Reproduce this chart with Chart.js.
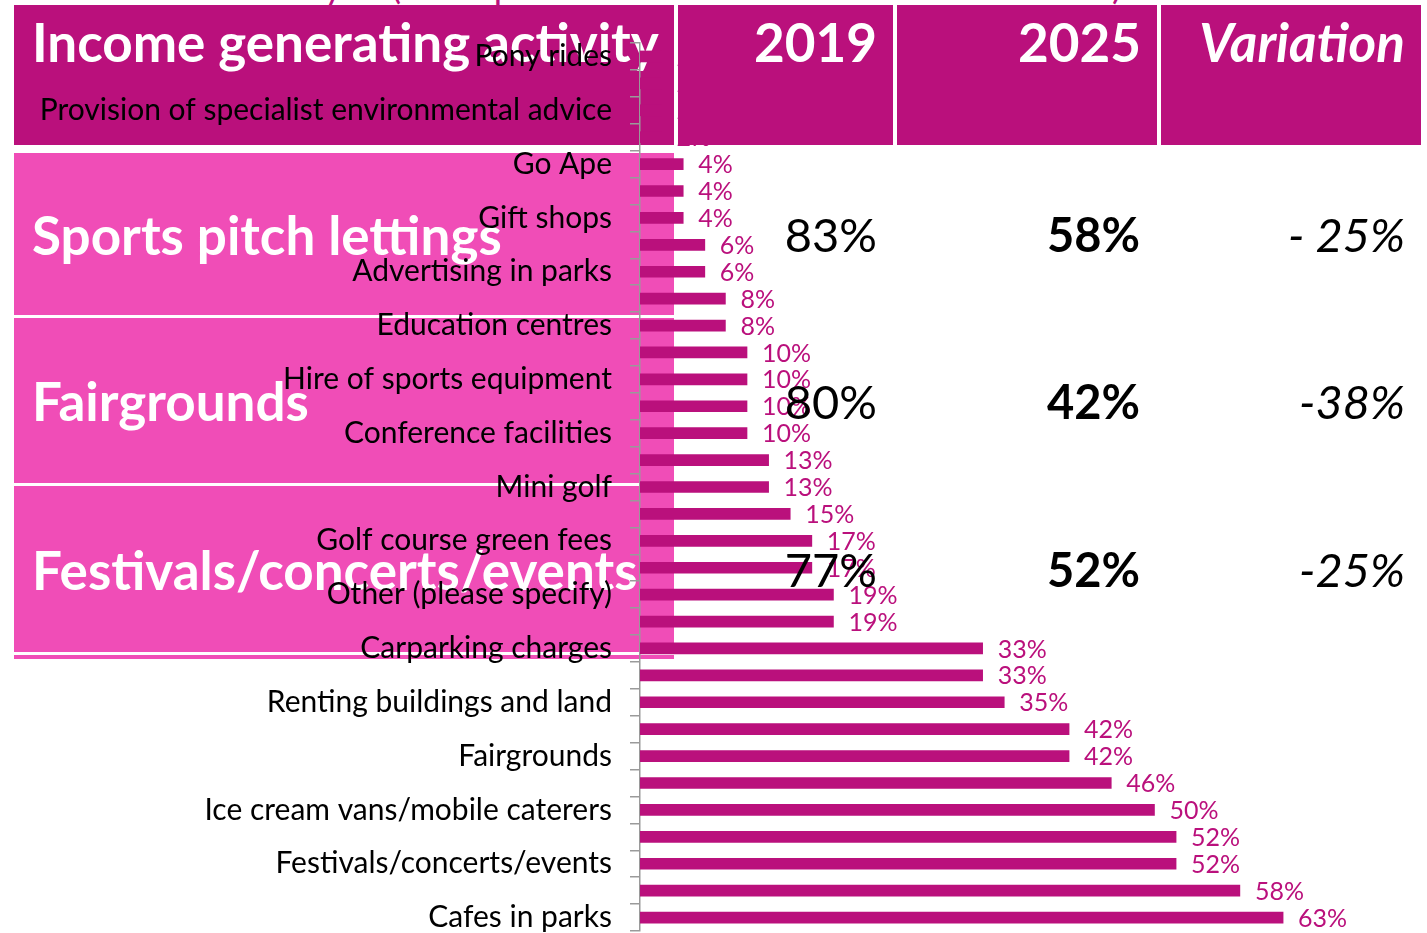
<!DOCTYPE html>
<html>
<head>
<meta charset="utf-8">
<script src="https://cdn.jsdelivr.net/npm/chart.js@4.4.0/dist/chart.umd.min.js"></script>
<style>
  html, body { margin: 0; padding: 0; background: #fff; }
  #wrap { position: relative; width: 1427px; height: 933px; overflow: hidden; font-family: Lato, "Open Sans", sans-serif; }
  .box { position: absolute; }
  .dark { background: #BA107C; }
  .pink { background: #F04DB7; }
  .txt { position: absolute; display: flex; align-items: center; white-space: nowrap; }
  #title { position: absolute; left: 0; width: 1390px; top: -37px; text-align: center; font-size: 36px; color: #BA107C; z-index: 0; }
  #chart { position: absolute; left: 0; top: 0; z-index: 2; }
</style>
</head>
<body>
<div id="wrap">
  <div id="title">analysis (other provided in the use of annual variations).</div>
  <canvas id="chart" width="1427" height="933"></canvas>
</div>
<script>
// chart data (2025 survey)
const categories = [
  "Pony rides", "Zoos/animal attractions", "Provision of specialist environmental advice", "Car boot sales",
  "Go Ape", "Cycle hire", "Gift shops", "Garden centres/nurseries",
  "Advertising in parks", "Play centres", "Education centres", "Memorial benches and trees",
  "Hire of sports equipment", "Sponsorship", "Conference facilities", "Weddings",
  "Mini golf", "Boating", "Golf course green fees", "Markets",
  "Other (please specify)", "Bowling greens", "Carparking charges", "Allotments",
  "Renting buildings and land", "Tennis courts", "Fairgrounds", "Filming and photography",
  "Ice cream vans/mobile caterers", "Circuses", "Festivals/concerts/events", "Sports pitch lettings",
  "Cafes in parks"
];
const values = [
  2.1, 2.1, 2.1, 2.1,
  4.2, 4.2, 4.2, 6.3,
  6.3, 8.3, 8.3, 10.4,
  10.4, 10.4, 10.4, 12.5,
  12.5, 14.6, 16.7, 16.7,
  18.8, 18.8, 33.3, 33.3,
  35.4, 41.7, 41.7, 45.8,
  50.0, 52.1, 52.1, 58.3,
  62.5
];

// overlay table
const tableHead = ["Income generating activity", "2019", "2025", "Variation"];
const tableActivities = ["Sports pitch lettings", "Fairgrounds", "Festivals/concerts/events"];
const table2019 = ["83%", "80%", "77%"];
const table2025 = ["58%", "42%", "52%"];
const tableVariation = ["- 25%", "-38%", "-25%"];

const DARK = "#BA107C";
const PINK = "#F04DB7";

const wrap = document.getElementById("wrap");
const cols = [
  { left: 14, width: 660 },
  { left: 678, width: 215 },
  { left: 897, width: 260 },
  { left: 1161, width: 260 }
];
const headTop = 5, headHeight = 140;
const rowTops = [153, 318, 486];
const rowHeights = [162, 165, 166];

const addBox = (cls, left, top, width, height, z) => {
  const d = document.createElement("div");
  d.className = "box " + cls;
  Object.assign(d.style, { left: left + "px", top: top + "px", width: width + "px", height: height + "px", zIndex: z });
  wrap.appendChild(d);
  return d;
};

const addText = (text, left, top, width, height, z, css) => {
  const d = document.createElement("div");
  d.className = "txt";
  d.textContent = text;
  Object.assign(d.style, { left: left + "px", top: top + "px", width: width + "px", height: height + "px", zIndex: z }, css);
  wrap.appendChild(d);
  return d;
};

// header row: first column sits under the chart, the rest on top
addBox("dark", cols[0].left, headTop, cols[0].width, headHeight, 1);
for (let c = 1; c < 4; c++) addBox("dark", cols[c].left, headTop, cols[c].width, headHeight, 3);

const headFont = { fontSize: "53px", fontWeight: "700", color: "#fff" };
addText(tableHead[0], cols[0].left + 18, headTop, cols[0].width, 72, 1, headFont);
for (let c = 1; c < 4; c++) {
  const css = Object.assign({ justifyContent: "flex-end" }, headFont);
  if (c === 3) css.fontStyle = "italic";
  addText(tableHead[c], cols[c].left, headTop, cols[c].width - 16, 72, 3, css);
}

// body rows
tableActivities.forEach((name, i) => {
  const top = rowTops[i], h = rowHeights[i];
  addBox("pink", cols[0].left, top, cols[0].width, h, 1);
  addText(name, cols[0].left + 18, top, cols[0].width, h, 1, headFont);
  const numFont = { fontSize: "47px", color: "#000", justifyContent: "flex-end" };
  addText(table2019[i], cols[1].left, top, cols[1].width - 16, h, 3, numFont);
  addText(table2025[i], cols[2].left, top, cols[2].width - 17, h, 3, Object.assign({}, numFont, { fontWeight: "700" }));
  addText(tableVariation[i], cols[3].left, top, cols[3].width - 16, h, 3, Object.assign({}, numFont, { fontStyle: "italic" }));
});
addBox("pink", cols[0].left, 655, cols[0].width, 4, 1);

// value labels next to each bar
const valueLabels = {
  id: "valueLabels",
  afterDatasetsDraw(chart) {
    const ctx = chart.ctx;
    const meta = chart.getDatasetMeta(0);
    ctx.save();
    ctx.font = "25px Lato, 'Open Sans', sans-serif";
    ctx.fillStyle = DARK;
    ctx.textAlign = "left";
    ctx.textBaseline = "middle";
    meta.data.forEach((bar, i) => {
      ctx.fillText(Math.round(values[i]) + "%", bar.x + 15, bar.y + 1);
    });
    ctx.restore();
  }
};

new Chart(document.getElementById("chart"), {
  type: "bar",
  data: {
    labels: categories,
    datasets: [{
      data: values,
      backgroundColor: DARK,
      borderWidth: 0,
      barThickness: 11
    }]
  },
  options: {
    indexAxis: "y",
    responsive: false,
    animation: false,
    layout: { padding: { top: 43, bottom: 2, left: 0, right: 5 } },
    plugins: {
      legend: { display: false },
      tooltip: { enabled: false }
    },
    scales: {
      x: { display: false, min: 0, max: 76 },
      y: {
        afterFit: (scale) => {
          scale.width = 640;
          scale.paddingTop = 0;
          scale.paddingBottom = 0;
        },
        border: { display: true, color: "#9a9a9a", width: 1.5 },
        grid: { display: true, drawOnChartArea: false, drawTicks: true, tickLength: 10, color: "#9a9a9a", lineWidth: 1.5 },
        ticks: {
          autoSkip: false,
          padding: 18,
          color: "#000",
          font: { family: "Lato, 'Open Sans', sans-serif", size: 30 },
          callback: function (v, i) { return i % 2 === 0 ? this.getLabelForValue(v) : ""; }
        }
      }
    }
  },
  plugins: [valueLabels]
});
</script>
</body>
</html>
